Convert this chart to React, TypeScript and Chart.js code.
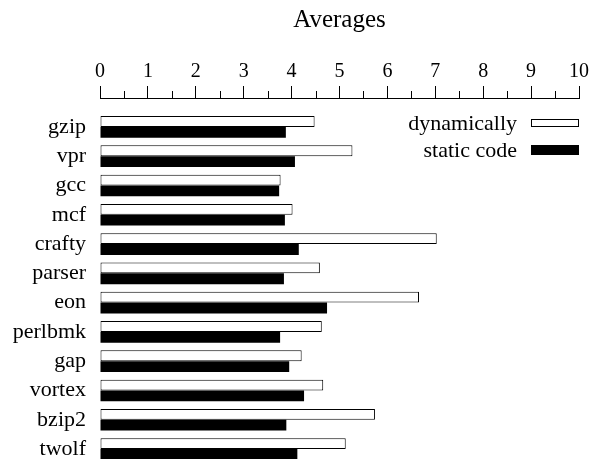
import React, { useEffect, useRef } from "react";
import { Chart, registerables } from "chart.js";

Chart.register(...registerables);

const categories = ["gzip", "vpr", "gcc", "mcf", "crafty", "parser", "eon", "perlbmk", "gap", "vortex", "bzip2", "twolf"];
const dynamicValues = [4.48, 5.27, 3.77, 4.02, 7.03, 4.59, 6.66, 4.63, 4.21, 4.66, 5.74, 5.13];
const staticValues = [3.88, 4.07, 3.74, 3.86, 4.15, 3.84, 4.74, 3.76, 3.95, 4.26, 3.89, 4.12];
const seriesLabels = ["dynamically", "static code"];
const xTicks = [0, 1, 2, 3, 4, 5, 6, 7, 8, 9, 10];
const minorTicks = [0.5, 1.5, 2.5, 3.5, 4.5, 5.5, 6.5, 7.5, 8.5, 9.5];

const FONT = "'Liberation Serif', 'Times New Roman', serif";

const minorTickPlugin = {
  id: "minorTicks",
  afterDraw(chart: any) {
    const scale = chart.scales.x;
    const ctx = chart.ctx;
    ctx.save();
    ctx.strokeStyle = "#000";
    ctx.lineWidth = 1;
    ctx.beginPath();
    for (const v of minorTicks) {
      const px = Math.round(scale.getPixelForValue(v)) + 0.5;
      ctx.moveTo(px, scale.bottom);
      ctx.lineTo(px, scale.bottom - 7);
    }
    ctx.stroke();
    ctx.restore();
  },
};

const legendPlugin = {
  id: "customLegend",
  afterDraw(chart: any) {
    const ctx = chart.ctx;
    const area = chart.chartArea;
    const boxW = 48;
    const boxHeights = [8, 10];
    const centers = [area.top + 25, area.top + 52];
    ctx.save();
    ctx.font = `22px ${FONT}`;
    ctx.textAlign = "right";
    ctx.textBaseline = "alphabetic";
    chart.data.datasets.forEach((ds: any, i: number) => {
      const cy = centers[i];
      const h = boxHeights[i];
      const bx = area.right - boxW;
      ctx.fillStyle = "#000";
      ctx.fillText(ds.label, bx - 14, cy + 7);
      ctx.fillStyle = ds.backgroundColor;
      ctx.fillRect(bx, cy - h / 2, boxW, h);
      if (ds.borderWidth) {
        ctx.strokeStyle = ds.borderColor;
        ctx.lineWidth = 1;
        ctx.strokeRect(Math.round(bx) + 0.5, Math.round(cy - h / 2) + 0.5, boxW - 1, h - 1);
      }
    });
    ctx.restore();
  },
};

export default function App() {
  const ref = useRef<HTMLCanvasElement | null>(null);

  useEffect(() => {
    if (!ref.current) return;
    const chart = new Chart(ref.current, {
      type: "bar",
      data: {
        datasets: [
          {
            label: seriesLabels[0],
            data: dynamicValues.map((v, i) => ({ x: v, y: i })),
            backgroundColor: "#ffffff",
            borderColor: "#000000",
            borderWidth: 1,
            borderSkipped: false,
          },
          {
            label: seriesLabels[1],
            data: staticValues.map((v, i) => ({ x: v, y: i })),
            backgroundColor: "#000000",
            borderWidth: 0,
          },
        ],
      },
      plugins: [minorTickPlugin, legendPlugin],
      options: {
        indexAxis: "y",
        responsive: false,
        animation: false,
        events: [],
        layout: { padding: { left: 0, right: 13, top: 0, bottom: 0 } },
        datasets: {
          bar: { barPercentage: 1, categoryPercentage: 0.74 },
        },
        plugins: {
          legend: { display: false },
          tooltip: { enabled: false },
          title: { display: false },
        },
        scales: {
          x: {
            type: "linear",
            position: "top",
            min: 0,
            max: 10,
            offset: false,
            afterBuildTicks: (scale: any) => {
              scale.ticks = xTicks.map((v) => ({ value: v }));
            },
            afterFit: (scale: any) => {
              scale.height = 98;
            },
            ticks: {
              color: "#000",
              font: { family: FONT, size: 20 },
              padding: 2,
              maxRotation: 0,
            },
            grid: {
              display: true,
              drawOnChartArea: false,
              drawTicks: true,
              tickLength: 12,
              tickColor: "#000",
              tickWidth: 1,
              offset: false,
            },
            border: { display: true, color: "#000", width: 1 },
            title: {
              display: true,
              text: "Averages",
              color: "#000",
              font: { family: FONT, size: 25 },
              padding: { top: 5, bottom: 4 },
            },
          },
          y: {
            type: "linear",
            reverse: true,
            offset: false,
            bounds: "data",
            min: -0.987,
            max: 11.34,
            afterBuildTicks: (scale: any) => {
              scale.ticks = categories.map((_, i) => ({ value: i }));
            },
            afterFit: (scale: any) => {
              scale.width = 100;
              scale.paddingTop = 0;
              scale.paddingBottom = 0;
            },
            ticks: {
              color: "#000",
              font: { family: FONT, size: 22 },
              padding: 14,
              autoSkip: false,
              callback: (v: any) => categories[v as number] ?? "",
            },
            grid: { display: false, drawTicks: false, offset: false },
            border: { display: false },
          },
        },
      } as any,
    });
    return () => chart.destroy();
  }, []);

  return (
    <canvas
      ref={ref}
      width={592}
      height={459}
      style={{ position: "absolute", left: 0, top: 0, display: "block" }}
    />
  );
}
